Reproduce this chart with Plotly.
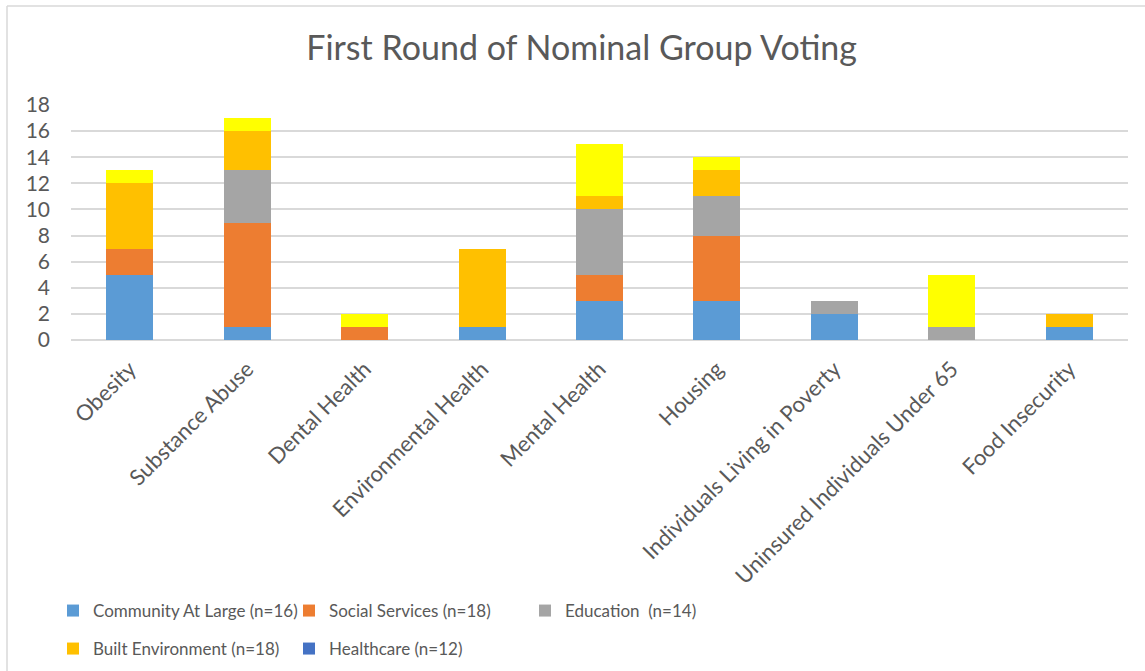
import plotly.graph_objects as go

categories = ["Obesity", "Substance Abuse", "Dental Health", "Environmental Health",
              "Mental Health", "Housing", "Individuals Living in Poverty",
              "Uninsured Individuals Under 65", "Food Insecurity"]

community = [5, 1, 0, 1, 3, 3, 2, 0, 1]
social = [2, 8, 1, 0, 2, 5, 0, 0, 0]
education = [0, 4, 0, 0, 5, 3, 1, 1, 0]
built = [5, 3, 0, 6, 1, 2, 0, 0, 1]
healthcare = [0, 0, 0, 0, 0, 0, 0, 0, 0]
other = [1, 1, 1, 0, 4, 1, 0, 4, 0]

series = [
    ("Community At Large (n=16)", community, "#5B9BD5", True, "legend"),
    ("Social Services (n=18)", social, "#ED7D31", True, "legend"),
    ("Education  (n=14)", education, "#A5A5A5", True, "legend"),
    ("Built Environment (n=18)", built, "#FFC000", True, "legend2"),
    ("Healthcare (n=12)", healthcare, "#4472C4", True, "legend2"),
    ("Other", other, "#FFFF00", False, "legend2"),
]

FONT = "Lato, 'Open Sans', sans-serif"
GRAY = "#595959"

fig = go.Figure()
for name, vals, color, show, lg in series:
    fig.add_trace(go.Bar(x=categories, y=vals, name=name, marker_color=color,
                         marker_line_width=0, showlegend=show, legend=lg))

W, H = 1145, 671
L, R, T, B = 71, 17, 105, 331
pw, ph = W - L - R, H - T - B

def px(x):
    return (x - L) / pw

def py(y):
    return (H - B - y) / ph

legend_common = dict(orientation="h", xanchor="left", yanchor="middle",
                     font=dict(size=17, color=GRAY, family=FONT), traceorder="normal",
                     itemwidth=30, bgcolor="rgba(0,0,0,0)",
                     entrywidthmode="pixels", entrywidth=191)

fig.update_layout(
    width=W, height=H,
    margin=dict(l=L, r=R, t=T, b=B, autoexpand=False),
    paper_bgcolor="white", plot_bgcolor="white",
    barmode="stack", bargap=0.6,
    font=dict(family=FONT, color=GRAY),
    title=dict(text="First Round of Nominal Group Voting", x=0.508, xanchor="center",
               y=1 - 48 / H, yanchor="middle", font=dict(size=34, color=GRAY, family=FONT)),
    xaxis=dict(tickangle=-45, tickfont=dict(size=22, color=GRAY), showgrid=False,
               showline=False, ticks="", automargin=False, ticklabelstandoff=11),
    yaxis=dict(range=[0, 18], dtick=2, tickfont=dict(size=21, color=GRAY),
               gridcolor="#D9D9D9", gridwidth=1.5, zeroline=True, zerolinecolor="#D9D9D9",
               zerolinewidth=1.5, showline=False, ticks="", automargin=False,
               ticklabelstandoff=20),
    legend=dict(x=px(53), y=py(611), **legend_common),
    legend2=dict(x=px(53), y=py(649), **legend_common),
    shapes=[
        dict(type="line", xref="paper", yref="paper", x0=px(7), x1=px(W + 5),
             y0=py(6), y1=py(6), line=dict(color="#D9D9D9", width=1.5)),
        dict(type="line", xref="paper", yref="paper", x0=px(7), x1=px(7),
             y0=py(6), y1=py(H + 5), line=dict(color="#D9D9D9", width=1.5)),
    ],
)

fig.write_html("out.html")
